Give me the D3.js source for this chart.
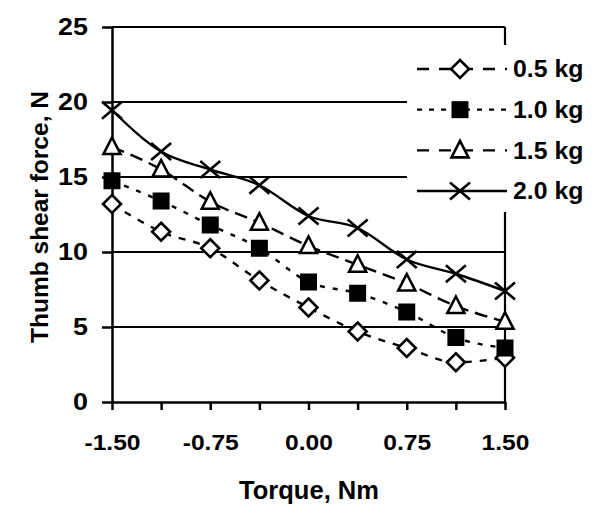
<!DOCTYPE html>
<html>
<head>
<meta charset="utf-8">
<script src="https://cdn.jsdelivr.net/npm/d3@7"></script>
<style>
  body { margin: 0; background: #fff; }
  svg { display: block; font-family: "Liberation Sans", Arial, sans-serif; font-weight: bold; }
</style>
</head>
<body>
<div id="chart"></div>
<script>
// Torque positions (Nm) and thumb shear force (N) for each load
var torque = [-1.5, -1.125, -0.75, -0.375, 0, 0.375, 0.75, 1.125, 1.5];
var force05 = [13.2, 11.35, 10.25, 8.1, 6.3, 4.7, 3.6, 2.65, 2.95];
var force10 = [14.75, 13.4, 11.8, 10.25, 8.0, 7.25, 6.0, 4.3, 3.6];
var force15 = [17.0, 15.5, 13.35, 11.95, 10.4, 9.15, 7.9, 6.4, 5.35];
var force20 = [19.45, 16.7, 15.5, 14.45, 12.4, 11.6, 9.5, 8.55, 7.4];
var seriesNames = ['0.5 kg', '1.0 kg', '1.5 kg', '2.0 kg'];
var xTicks = [-1.5, -1.125, -0.75, -0.375, 0, 0.375, 0.75, 1.125, 1.5];
var yTicks = [0, 5, 10, 15, 20, 25];

var series = [
  { name: seriesNames[0], values: force05, marker: 'diamond', dash: '7,8', legendDash: '12,10' },
  { name: seriesNames[1], values: force10, marker: 'square', dash: '5,8', legendDash: '5,7' },
  { name: seriesNames[2], values: force15, marker: 'triangle', dash: '13,7', legendDash: '12,10' },
  { name: seriesNames[3], values: force20, marker: 'cross', dash: null, legendDash: null },
];

var width = 602, height = 520;
var svg = d3.select('#chart').append('svg').attr('width', width).attr('height', height);

var x = d3.scaleLinear().domain([-1.5, 1.5]).range([112, 505]);
var y = d3.scaleLinear().domain([0, 25]).range([402, 27]);

var fmt = d3.format('.2f');

// horizontal gridlines (also the top frame at 25)
svg.append('g')
  .selectAll('line')
  .data(yTicks.filter((d) => d > 0))
  .join('line')
  .attr('x1', x(-1.5)).attr('x2', x(1.5))
  .attr('y1', (d) => y(d)).attr('y2', (d) => y(d))
  .attr('stroke', '#000').attr('stroke-width', 2.2);

// right border
svg.append('line')
  .attr('x1', x(1.5)).attr('x2', x(1.5))
  .attr('y1', y(25)).attr('y2', y(0))
  .attr('stroke', '#000').attr('stroke-width', 2.2);

// x axis
var xAxis = svg.append('g')
  .attr('transform', `translate(0,${y(0)})`)
  .call(d3.axisBottom(x).tickValues(xTicks).tickSize(8).tickSizeOuter(0)
    .tickFormat((d, i) => (i % 2 === 0 ? fmt(d).replace('\u2212', '-') : '')));
xAxis.selectAll('path, line').attr('stroke', '#000').attr('stroke-width', 2.5);
xAxis.selectAll('text')
  .attr('font-size', 22).attr('font-family', null).attr('fill', '#000')
  .attr('y', 0).attr('dy', null)
  .attr('transform', 'translate(0,48) scale(1.12,1)');

// y axis
var yAxis = svg.append('g')
  .attr('transform', `translate(${x(-1.5)},0)`)
  .call(d3.axisLeft(y).tickValues(yTicks).tickSize(10).tickSizeOuter(0));
yAxis.selectAll('path, line').attr('stroke', '#000').attr('stroke-width', 2.5);
yAxis.selectAll('text')
  .attr('font-size', 24).attr('font-family', null).attr('fill', '#000')
  .attr('x', 0)
  .attr('transform', 'translate(-24,0) scale(1.12,1)');

// axis titles
svg.append('text')
  .attr('x', 309).attr('y', 499)
  .attr('text-anchor', 'middle').attr('font-size', 25.5)
  .text('Torque, Nm');

svg.append('text')
  .attr('transform', 'translate(48,217) rotate(-90)')
  .attr('text-anchor', 'middle').attr('font-size', 24.5)
  .text('Thumb shear force, N');

// marker drawing
function drawMarker(g, type) {
  if (type === 'diamond') {
    g.append('path').attr('d', 'M0,-9L9,0L0,9L-9,0Z')
      .attr('fill', '#fff').attr('stroke', '#000').attr('stroke-width', 2.6);
  } else if (type === 'square') {
    g.append('rect').attr('x', -8.5).attr('y', -8.5).attr('width', 17).attr('height', 17)
      .attr('fill', '#000');
  } else if (type === 'triangle') {
    g.append('path').attr('d', 'M0,-9.5L8.5,7L-8.5,7Z')
      .attr('fill', '#fff').attr('stroke', '#000').attr('stroke-width', 2.6);
  } else {
    g.append('path').attr('d', 'M-10,-8.5L10,8.5M-10,8.5L10,-8.5')
      .attr('fill', 'none').attr('stroke', '#000').attr('stroke-width', 2.6);
  }
}

var line = d3.line().x((d, i) => x(torque[i])).y((d) => y(d)).curve(d3.curveMonotoneX);

series.forEach(function (s) {
  svg.append('path')
    .datum(s.values)
    .attr('d', line)
    .attr('fill', 'none').attr('stroke', '#000').attr('stroke-width', 2.4)
    .attr('stroke-dasharray', s.dash);
  s.values.forEach(function (v, i) {
    var g = svg.append('g').attr('transform', `translate(${x(torque[i])},${y(v)})`);
    drawMarker(g, s.marker);
  });
});

// legend
var legend = svg.append('g');
legend.append('rect')
  .attr('x', 407).attr('y', 45).attr('width', 195).attr('height', 167)
  .attr('fill', '#fff');
var rowY = d3.scalePoint().domain(seriesNames).range([69, 191]);
series.forEach(function (s) {
  var ly = rowY(s.name);
  legend.append('line')
    .attr('x1', 417).attr('x2', 507).attr('y1', ly).attr('y2', ly)
    .attr('stroke', '#000').attr('stroke-width', 2.4)
    .attr('stroke-dasharray', s.legendDash);
  var g = legend.append('g').attr('transform', `translate(460,${ly})`);
  drawMarker(g, s.marker);
  legend.append('text')
    .attr('x', 0).attr('y', 0).attr('dy', '0.36em')
    .attr('transform', `translate(513,${ly}) scale(1.08,1)`)
    .attr('font-size', 23)
    .text(s.name);
});
</script>
</body>
</html>
